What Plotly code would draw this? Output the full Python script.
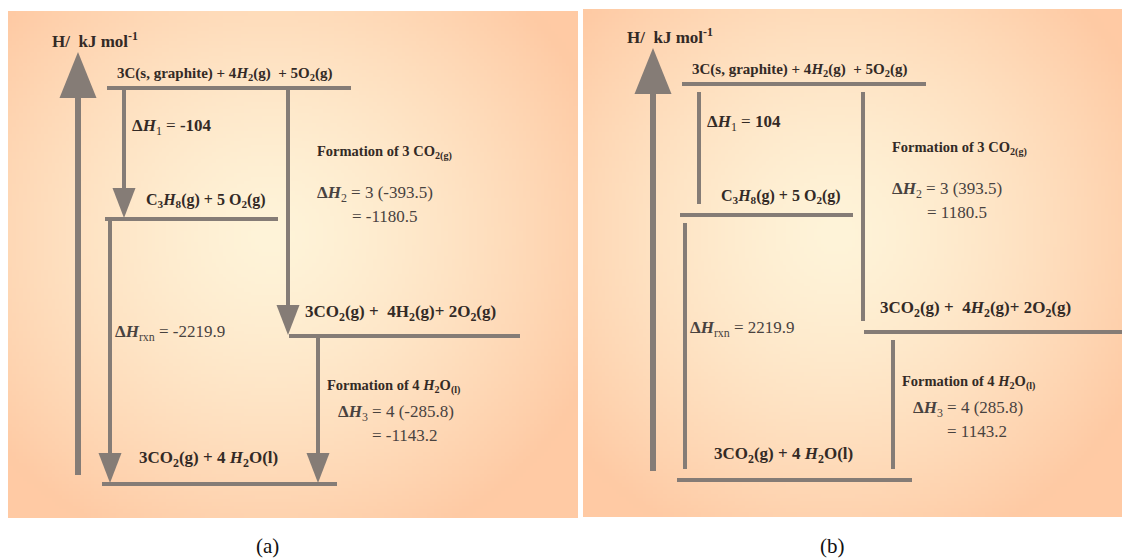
"""Enthalpy cycle for the combustion of propane, panels (a) and (b)."""
import base64
import struct
import zlib

import numpy as np
import plotly.graph_objects as go

# ---- data (kJ/mol) ----
dH1 = -104
n_co2, dHf_co2 = 3, -393.5
n_h2o, dHf_h2o = 4, -285.8
dH_rxn = -2219.9

level_labels_a = [
    "3C(s, graphite) + 4<i>H</i><sub>2</sub>(g)  + 5O<sub>2</sub>(g)",
    "C<sub>3</sub><i>H</i><sub>8</sub>(g) + 5 O<sub>2</sub>(g)",
    "3CO<sub>2</sub>(g) +  4H<sub>2</sub>(g)+ 2O<sub>2</sub>(g)",
    "3CO<sub>2</sub>(g) + 4 <i>H</i><sub>2</sub>O(l)",
]
level_labels_b = [
    "3C(s, graphite) + 4<i>H</i><sub>2</sub>(g)  + 5O<sub>2</sub>(g)",
    "C<sub>3</sub><i>H</i><sub>8</sub>(g) + 5 O<sub>2</sub>(g)",
    "3CO<sub>2</sub>(g) +  4<i>H</i><sub>2</sub>(g)+ 2O<sub>2</sub>(g)",
    "3CO<sub>2</sub>(g) + 4 <i>H</i><sub>2</sub>O(l)",
]
captions = ["(a)", "(b)"]

# ---- schematic layout (not to scale), panel (a) coordinates ----
level_y = [88, 219, 336, 484]
level_x = [(107, 351), (105, 278), (289, 520), (102, 337)]
level_text_pos = [(225, 74), (206, 200), (400, 313), (208, 459)]
level_text_size = [15, 16, 17, 17]
steps = [(124, 0, 1), (288, 0, 2), (110, 1, 3), (318, 2, 3)]  # x, from, to

GRAY = "#857c76"
DARK = "#332a26"
TXT = "#48423f"
FONT = "Liberation Serif, Times New Roman, serif"

panels = [
    dict(dx=0, dy=0, sign=1, labels=level_labels_a, arrows=True,
         bg=(7, 11, 571, 507), cap_x=267, co2_end=520),
    dict(dx=575, dy=-4, sign=-1, labels=level_labels_b, arrows=False,
         bg=(583, 9, 547, 508), cap_x=257, co2_end=555),
]


def png_uri(arr):
    h, w, _ = arr.shape
    raw = b"".join(b"\x00" + arr[i].tobytes() for i in range(h))

    def chunk(tag, data):
        c = struct.pack(">I", len(data)) + tag + data
        return c + struct.pack(">I", zlib.crc32(tag + data) & 0xffffffff)

    png = (b"\x89PNG\r\n\x1a\n"
           + chunk(b"IHDR", struct.pack(">IIBBBBB", w, h, 8, 2, 0, 0, 0))
           + chunk(b"IDAT", zlib.compress(raw, 9))
           + chunk(b"IEND", b""))
    return "data:image/png;base64," + base64.b64encode(png).decode()


def gradient(w=160, h=142):
    yy, xx = np.mgrid[0:h, 0:w]
    r = np.sqrt(((xx - 0.46 * w) / (0.62 * w)) ** 2 + ((yy - 0.44 * h) / (0.66 * h)) ** 2)
    t = np.clip(r, 0, 1) ** 1.4
    c0 = np.array([254, 244, 217.0])
    c1 = np.array([255, 202, 164.0])
    img = c0 + (c1 - c0) * t[..., None]
    return png_uri(img.astype(np.uint8))


def fmt(v):
    return f"{v:g}"


fig = go.Figure()
shapes = []
annotations = []
images = []
bg_src = gradient()


def line(x0, y0, x1, y1, width):
    shapes.append(dict(type="line", xref="x", yref="y", x0=x0, y0=y0, x1=x1, y1=y1,
                       line=dict(color=GRAY, width=width), layer="above"))


def tri(x, tip, base, half):
    shapes.append(dict(type="path", xref="x", yref="y",
                       path=f"M {x - half},{base} L {x + half},{base} L {x},{tip} Z",
                       fillcolor=GRAY, line=dict(width=0), layer="above"))


def text(x, y, s, size, color=TXT, anchor="left"):
    annotations.append(dict(x=x, y=y, xref="x", yref="y", text=s, showarrow=False,
                            xanchor=anchor, yanchor="middle",
                            font=dict(family=FONT, size=size, color=color)))


for p in panels:
    dx, dy, sg = p["dx"], p["dy"], p["sign"]
    bx, by, bw, bh = p["bg"]
    images.append(dict(source=bg_src, xref="x", yref="y", x=bx, y=by, sizex=bw, sizey=bh,
                       sizing="stretch", xanchor="left", yanchor="top", layer="below"))

    # enthalpy axis arrow
    text(50 + dx, 40 + dy, "<b>H/  kJ mol<sup>-1</sup></b>", 17, DARK)
    line(78 + dx, 90 + dy, 78 + dx, 475 + dy, 6)
    tri(78 + dx, 52 + dy, 98 + dy, 18.5)

    # levels
    for i, (x0, x1) in enumerate(level_x):
        if i == 2:
            x1 = p["co2_end"]
        line(x0 + dx, level_y[i] + dy, x1 + dx, level_y[i] + dy, 4)
        tx, ty = level_text_pos[i]
        text(tx + dx, ty + dy, "<b>" + p["labels"][i] + "</b>", level_text_size[i], DARK, "center")

    # steps
    for x, i, j in steps:
        y0, y1 = level_y[i] + dy, level_y[j] + dy
        if p["arrows"]:
            line(x + dx, y0 + 2, x + dx, y1 - 20, 4)
            tri(x + dx, y1 - 1, y1 - 31, 11.5)
        else:
            line(x + dx, y0 + 8, x + dx, y1 - 11, 4)

    # step values
    text(130 + dx, 127 + dy, f"<b>Δ<i>H</i></b><sub>1</sub> = <b>{fmt(sg * dH1)}</b>", 17, DARK)
    text(315 + dx, 152 + dy, "<b>Formation of 3 CO<sub>2</sub><sub>(g)</sub></b>", 14.5, DARK)
    text(315 + dx, 194 + dy, f"<b>Δ<i>H</i></b><sub>2</sub> = {n_co2} ({fmt(sg * dHf_co2)})", 17)
    text(350 + dx, 216 + dy, f"= {sg * n_co2 * dHf_co2:.1f}", 17)
    text(113 + dx, 333 + dy, f"<b>Δ<i>H</i></b><sub>rxn</sub> = {fmt(sg * dH_rxn)}", 17)
    text(325 + dx, 386 + dy, "<b>Formation of 4 <i>H</i><sub>2</sub>O<sub>(l)</sub></b>", 14.5, DARK)
    text(336 + dx, 413 + dy, f"<b>Δ<i>H</i></b><sub>3</sub> = {n_h2o} ({fmt(sg * dHf_h2o)})", 17)
    text(370 + dx, 435 + dy, f"= {sg * n_h2o * dHf_h2o:.1f}", 17)

for k, p in enumerate(panels):
    text(p["cap_x"] + p["dx"], 546, captions[k], 21, "#111111", "center")

# the page body has an 8px margin, so the figure is drawn from (8, 8)
fig.update_layout(
    width=1122, height=551,
    margin=dict(l=0, r=0, t=0, b=0),
    paper_bgcolor="white", plot_bgcolor="white",
    xaxis=dict(range=[8, 1130], visible=False, fixedrange=True),
    yaxis=dict(range=[559, 8], visible=False, fixedrange=True),
    shapes=shapes, annotations=annotations, images=images,
    showlegend=False,
)

fig.write_html("out.html")
